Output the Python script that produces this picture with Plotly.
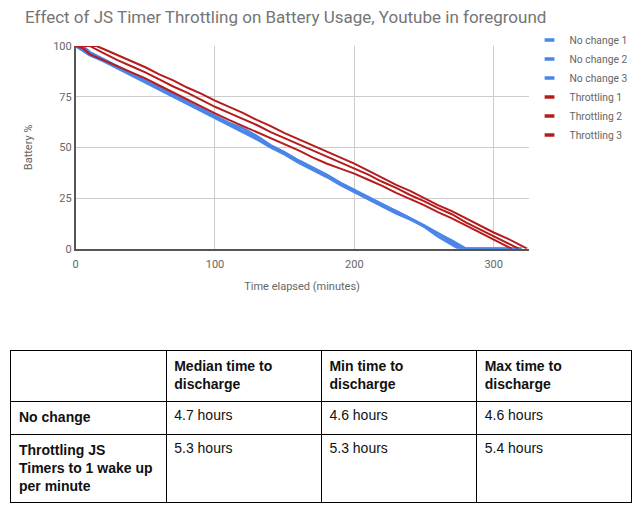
##############################################
### Battery discharge chart + summary table ###
##############################################

import plotly.graph_objects as go

# Time elapsed (minutes) and battery (%) per run
t_nochange_1 = [0, 10, 20, 30, 40, 50, 60, 70, 80, 90, 100, 110, 120, 130, 140, 150, 160, 170, 180, 190,
                200, 210, 220, 230, 240, 250, 260, 270, 280, 290, 300, 310, 320]
b_nochange_1 = [100, 96, 93, 89.5, 86, 83, 79, 75.5, 72, 68.5, 65, 61.5, 58, 54.5, 50.5, 47, 43, 39.5, 36, 32,
                28.5, 25, 21.5, 18.5, 15, 11.5, 7.5, 4, 0, 0, 0, 0, 0]

t_nochange_2 = [0, 5, 10, 20, 30, 40, 50, 60, 70, 80, 90, 100, 110, 120, 130, 140, 150, 160, 170, 180, 190,
                200, 210, 220, 230, 240, 250, 260, 270, 277, 290, 300, 310, 320]
b_nochange_2 = [100, 100, 97, 93.5, 90, 86.5, 82.5, 79.5, 76, 72.5, 69, 65.5, 62, 59.5, 55.5, 51, 47.5, 43.5, 40, 36.5, 32.5,
                29, 25.5, 22, 18.5, 15, 11, 7.5, 3, 0, 0, 0, 0, 0]

t_nochange_3 = [0, 10, 20, 30, 40, 50, 60, 70, 80, 90, 100, 110, 120, 130, 140, 150, 160, 170, 180, 190,
                200, 210, 220, 230, 240, 250, 260, 270, 275, 290, 300, 310, 320]
b_nochange_3 = [100, 95.5, 92.5, 89, 85.5, 82, 78.5, 75, 71.5, 68, 64.5, 61, 57.5, 54, 50, 46.5, 42.5, 39, 35.5, 31.5,
                28, 24.5, 21, 17.5, 14.5, 11, 6, 2, 0, 0, 0, 0, 0]

t_throttle_1 = [0, 5, 10, 20, 30, 40, 50, 60, 70, 80, 90, 100, 110, 120, 130, 140, 150, 160, 170, 180, 190,
                200, 210, 220, 230, 240, 250, 260, 270, 280, 290, 300, 310, 313]
b_throttle_1 = [100, 99, 96, 93, 90, 87, 84, 80.5, 77, 73.5, 70, 66.8, 63.5, 60.5, 57.5, 54.5, 51.5, 48.5, 45, 42, 39.5,
                37, 34, 31, 27.5, 24.5, 21.5, 18, 15, 11.5, 8, 4.5, 1, 0]

t_throttle_2 = [0, 10, 20, 30, 40, 50, 60, 70, 80, 90, 100, 110, 120, 130, 140, 150, 160, 170, 180, 190,
                200, 210, 220, 230, 240, 250, 260, 270, 280, 290, 300, 310, 318]
b_throttle_2 = [100, 100, 96.5, 93, 90, 87, 83.5, 80, 77, 73.5, 70, 67, 64, 61, 57.5, 54.5, 51.5, 48.5, 45.5, 42.5,
                39.5, 36.5, 33, 30, 26.5, 23.5, 20, 17, 13, 9.5, 6, 2.5, 0]

t_throttle_3 = [0, 10, 15, 20, 30, 40, 50, 60, 70, 80, 90, 100, 110, 120, 130, 140, 150, 160, 170, 180, 190,
                200, 210, 220, 230, 240, 250, 260, 270, 280, 290, 300, 310, 320, 324]
b_throttle_3 = [100, 100, 100, 98.5, 95.5, 92.5, 89.5, 86, 83, 79.5, 76.5, 73, 70, 67, 63.5, 60.5, 57, 54, 51, 48, 45,
                42, 38.5, 35, 31.5, 28.5, 25, 21.5, 18.5, 15, 11.5, 8, 5, 1.5, 0]

# Table contents
table_header = ["", "Median time to<br>discharge", "Min time to<br>discharge", "Max time to<br>discharge"]
row_labels = ["No change", "Throttling JS<br>Timers to 1 wake up<br>per minute"]
median_time = ["4.7 hours", "5.3 hours"]
min_time = ["4.6 hours", "5.3 hours"]
max_time = ["4.6 hours", "5.4 hours"]

BLUE = "#4a86e8"
RED = "#b71c1c"
W, H = 641, 513

series = [
    ("No change 1", t_nochange_1, b_nochange_1, BLUE, 2.6),
    ("No change 2", t_nochange_2, b_nochange_2, BLUE, 2.6),
    ("No change 3", t_nochange_3, b_nochange_3, BLUE, 2.6),
    ("Throttling 1", t_throttle_1, b_throttle_1, RED, 2),
    ("Throttling 2", t_throttle_2, b_throttle_2, RED, 2),
    ("Throttling 3", t_throttle_3, b_throttle_3, RED, 2),
]

fig = go.Figure()

for name, t, b, col, lw in series:
    fig.add_trace(go.Scatter(x=t, y=b, mode="lines", name=name, showlegend=False,
                             line=dict(color=col, width=lw)))

# legend entries as short thick dashes, like the original
for name, t, b, col, lw in series:
    fig.add_trace(go.Scatter(x=[None], y=[None], mode="markers", name=name,
                             marker=dict(symbol="line-ew", size=7, color=col,
                                         line=dict(color=col, width=3.5))))

# table, first column bold
bold_header = ["<b>" + h + "</b>" if h else "" for h in table_header]
bold_rows = ["<b>" + r + "</b>" for r in row_labels]
table_font = dict(family="Liberation Sans, Arial", size=14, color="#111")

fig.add_trace(go.Table(
    domain=dict(x=[8 / W, 632 / W], y=[1 - 512 / H, 1 - 353 / H]),
    columnwidth=[1, 1, 1, 1],
    header=dict(values=bold_header, align="left", height=51,
                fill_color="white", line=dict(color="black", width=1), font=table_font),
    cells=dict(values=[bold_rows, median_time, min_time, max_time], align="left", height=33,
               fill_color="white", line=dict(color="black", width=1), font=table_font),
))

axis_font = dict(family="Roboto", size=11, color="#666")

fig.update_layout(
    width=W, height=H,
    margin=dict(l=0, r=0, t=0, b=0),
    paper_bgcolor="white", plot_bgcolor="white",
    title=dict(text="Effect of JS Timer Throttling on Battery Usage, Youtube in foreground",
               x=25 / W, xanchor="left", y=1 - 17 / H, yanchor="middle",
               font=dict(family="Roboto", size=17, color="#757575")),
    xaxis=dict(domain=[73 / W, 528 / W], range=[0, 325], tickvals=[0, 100, 200, 300],
               showgrid=True, gridcolor="#cccccc", zeroline=False,
               showline=True, linecolor="#555", linewidth=1.5,
               tickfont=axis_font, ticks="", ticklabelstandoff=4,
               title=dict(text="Time elapsed (minutes)", font=axis_font, standoff=13)),
    yaxis=dict(domain=[1 - 249 / H, 1 - 41 / H], range=[0, 100], tickvals=[0, 25, 50, 75, 100],
               showgrid=True, gridcolor="#cccccc", zeroline=False,
               showline=True, linecolor="#555", linewidth=1.5,
               tickfont=axis_font, ticks="",
               title=dict(text="Battery %", font=axis_font, standoff=18)),
    legend=dict(x=529 / W, xanchor="left", y=1 - 20 / H, yanchor="top",
                font=dict(family="Roboto", size=10.3, color="#666"),
                itemwidth=30, bgcolor="rgba(0,0,0,0)", tracegroupgap=0),
)

# the page's default body margin would push the figure off the window
fig.write_html("out.html", config={"displayModeBar": False},
               post_script="document.body.style.margin='0';")
